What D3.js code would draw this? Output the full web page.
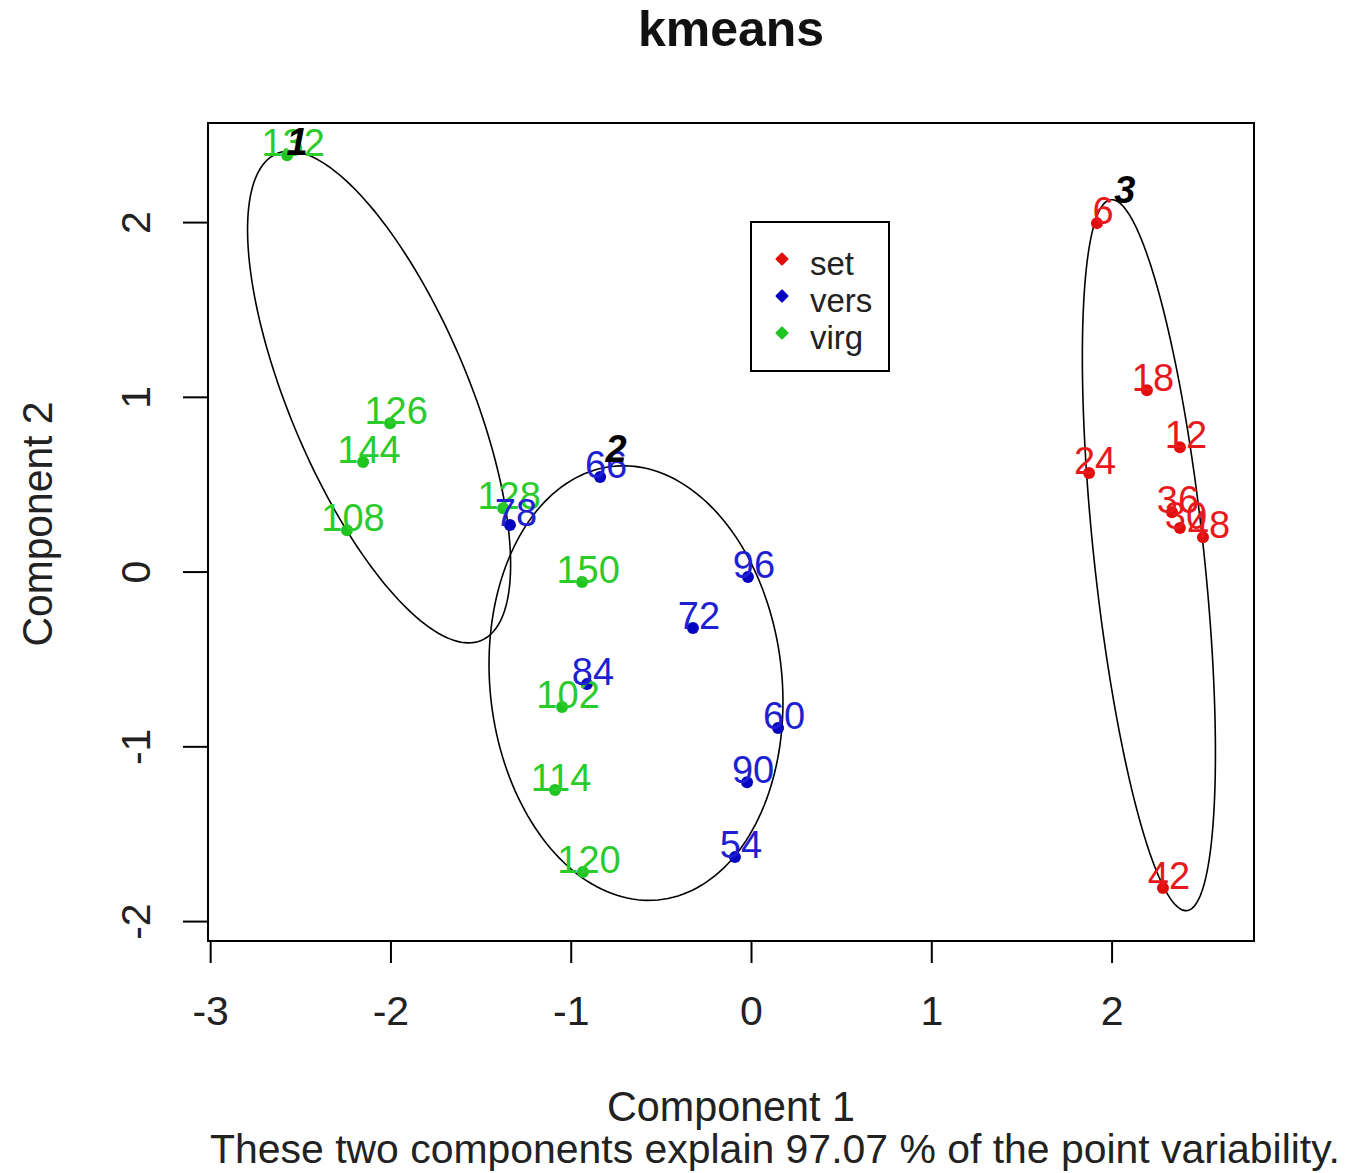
<!DOCTYPE html>
<html>
<head>
<meta charset="utf-8">
<script src="https://cdn.jsdelivr.net/npm/d3@7"></script>
<style>
  body { margin: 0; background: #fff; }
  svg { display: block; font-family: "Liberation Sans", Arial, sans-serif; }
</style>
</head>
<body>
<svg id="chart" width="1346" height="1173"></svg>
<script>
// ---- data ----
const pointIds  = [132, 126, 144, 108, 128, 150, 102, 114, 120,
                   66, 78, 96, 72, 84, 60, 90, 54,
                   6, 18, 12, 24, 36, 30, 48, 42];
const pc1 = [-2.573, -2.002, -2.152, -2.241, -1.375, -0.937, -1.048, -1.087, -0.932,
             -0.837, -1.337, -0.017, -0.322, -0.910, 0.150, -0.022, -0.089,
             1.919, 2.196, 2.379, 1.875, 2.335, 2.379, 2.507, 2.285];
const pc2 = [2.383, 0.849, 0.627, 0.237, 0.363, -0.060, -0.775, -1.250, -1.719,
             0.541, 0.266, -0.031, -0.323, -0.644, -0.895, -1.205, -1.634,
             1.994, 1.038, 0.712, 0.564, 0.340, 0.249, 0.197, -1.811];
const species = ["virg","virg","virg","virg","virg","virg","virg","virg","virg",
                 "vers","vers","vers","vers","vers","vers","vers","vers",
                 "set","set","set","set","set","set","set","set"];

const legendLabels = ["set", "vers", "virg"];

// cluster ellipses: centre, semi-axes (data units), orientation (deg)
const clusterNames  = ["1", "2", "3"];
const ellCx    = [-2.063, -0.638, 2.207];
const ellCy    = [0.999, -0.638, 0.094];
const ellA     = [1.504, 1.247, 2.045];
const ellB     = [0.500, 0.810, 0.305];
const ellAngle = [112.0, 95.6, 95.9];
const clusterLabelX = [-2.518, -0.749, 2.074];
const clusterLabelY = [2.383, 0.627, 2.109];

const xTicks = [-3, -2, -1, 0, 1, 2];
const yTicks = [-2, -1, 0, 1, 2];
const xDomain = [-3.012, 2.790];
const yDomain = [-2.114, 2.567];

const titleText = "kmeans";
const xTitle = "Component 1";
const yTitle = "Component 2";
const subTitle = "These two components explain 97.07 % of the point variability.";

// ---- styling ----
const dotColor  = { set: "#e00d0d", vers: "#0505c0", virg: "#1fc41f" };
const textColor = { set: "#e8191c", vers: "#1f1fd2", virg: "#2bcb2b" };

const svg = d3.select("#chart");
const L = 208, R = 1254, T = 123, B = 941;

const x = d3.scaleLinear().domain(xDomain).range([L, R]);
const y = d3.scaleLinear().domain(yDomain).range([B, T]);
const fmt = d => String(d);

// title
svg.append("text").attr("x", 731).attr("y", 46)
  .attr("text-anchor", "middle").attr("font-weight", "bold")
  .attr("font-size", 50).attr("fill", "#111").text(titleText);

// ellipses
const line = d3.line().x(d => x(d[0])).y(d => y(d[1]));
clusterNames.forEach((c, i) => {
  const al = ellAngle[i] * Math.PI / 180;
  const pts = d3.range(0, 361, 2).map(t => {
    const r = t * Math.PI / 180;
    const u = ellA[i] * Math.cos(r), v = ellB[i] * Math.sin(r);
    return [ellCx[i] + u * Math.cos(al) - v * Math.sin(al),
            ellCy[i] + u * Math.sin(al) + v * Math.cos(al)];
  });
  svg.append("path").attr("d", line(pts)).attr("fill", "none")
    .attr("stroke", "#000").attr("stroke-width", 1.6);
});

// points
const data = pointIds.map((id, i) => ({ id, x: pc1[i], y: pc2[i], s: species[i] }));
svg.append("g").selectAll("circle").data(data).join("circle")
  .attr("cx", d => x(d.x)).attr("cy", d => y(d.y)).attr("r", 6)
  .attr("fill", d => dotColor[d.s]);

// point labels
svg.append("g").selectAll("text").data(data).join("text")
  .attr("x", d => x(d.x) + 6).attr("y", d => y(d.y) + 1)
  .attr("text-anchor", "middle").attr("font-size", 38)
  .attr("fill", d => textColor[d.s]).text(d => d.id);

// cluster labels
svg.append("g").selectAll("text").data(clusterNames).join("text")
  .attr("x", (d, i) => x(clusterLabelX[i])).attr("y", (d, i) => y(clusterLabelY[i]))
  .attr("text-anchor", "middle").attr("font-size", 38)
  .attr("font-weight", "bold").attr("font-style", "italic")
  .attr("fill", "#000").text(d => d);

// plot box
svg.append("rect").attr("x", L).attr("y", T).attr("width", R - L).attr("height", B - T)
  .attr("fill", "none").attr("stroke", "#000").attr("stroke-width", 2);

// x axis
const gx = svg.append("g").attr("transform", `translate(0,${B})`)
  .call(d3.axisBottom(x).tickValues(xTicks).tickSize(22).tickFormat(fmt));
gx.select(".domain").remove();
gx.selectAll(".tick line").attr("stroke", "#000").attr("stroke-width", 2);
gx.selectAll(".tick text").attr("y", 84).attr("dy", 0)
  .attr("font-size", 41).attr("font-family", "Liberation Sans, Arial, sans-serif")
  .attr("fill", "#222");

// y axis
const gy = svg.append("g").attr("transform", `translate(${L},0)`)
  .call(d3.axisLeft(y).tickValues(yTicks).tickSize(25).tickFormat(fmt));
gy.select(".domain").remove();
gy.selectAll(".tick line").attr("stroke", "#000").attr("stroke-width", 2);
gy.selectAll(".tick text").attr("x", 0).attr("dy", 0).attr("y", 0)
  .attr("text-anchor", "middle")
  .attr("transform", "translate(-58,0) rotate(-90)")
  .attr("font-size", 41).attr("font-family", "Liberation Sans, Arial, sans-serif")
  .attr("fill", "#222");

// axis titles
svg.append("text").attr("x", 731).attr("y", 1121).attr("text-anchor", "middle")
  .attr("font-size", 42).attr("fill", "#222")
  .attr("textLength", 248).attr("lengthAdjust", "spacingAndGlyphs").text(xTitle);
svg.append("text").attr("transform", "translate(52,524) rotate(-90)")
  .attr("text-anchor", "middle").attr("font-size", 42).attr("fill", "#222")
  .attr("textLength", 245).attr("lengthAdjust", "spacingAndGlyphs").text(yTitle);
svg.append("text").attr("x", 210).attr("y", 1163)
  .attr("font-size", 40).attr("fill", "#222")
  .attr("textLength", 1130).attr("lengthAdjust", "spacingAndGlyphs").text(subTitle);

// legend
const lg = svg.append("g");
lg.append("rect").attr("x", 751).attr("y", 222).attr("width", 138).attr("height", 149)
  .attr("fill", "#fff").attr("stroke", "#000").attr("stroke-width", 2);
const sym = d3.symbol().type(d3.symbolSquare).size(60);
legendLabels.forEach((s, i) => {
  lg.append("path").attr("d", sym)
    .attr("transform", `translate(782,${259 + i * 37}) rotate(45)`)
    .attr("fill", dotColor[s]).attr("stroke", dotColor[s])
    .attr("stroke-width", 2).attr("stroke-linejoin", "round");
  lg.append("text").attr("x", 810).attr("y", 275 + i * 37)
    .attr("font-size", 33).attr("fill", "#222").text(s);
});
</script>
</body>
</html>
